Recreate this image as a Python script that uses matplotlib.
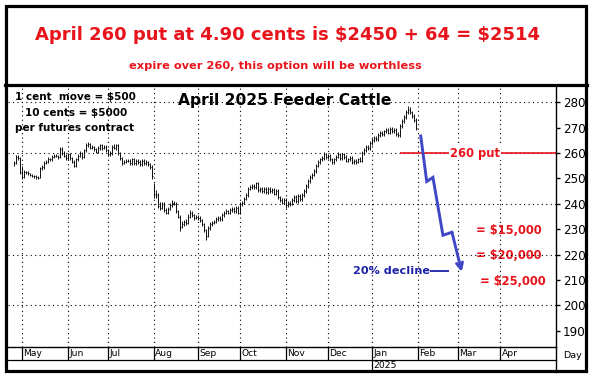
import numpy as np
import pandas as pd
import matplotlib.pyplot as plt
from matplotlib.patches import Rectangle
from matplotlib.lines import Line2D

W, H = 591, 378

# daily bars, Apr 25 2024 .. Jan 31 2025 (business days)
closes = [
    256, 258.5, 258, 252.5,
    250.5, 252.5, 252.5, 252, 251.5, 251, 250.8, 250.5, 250.3, 254, 254.5, 256, 256.5, 257.5, 257.5, 258.5, 259, 259, 258.5, 261.5, 260, 259, 258,
    259.5, 258, 256.5, 255, 257.5, 259, 260, 258.5, 261, 263, 263.5, 262, 262.5, 261.5, 260.5, 262, 263, 262, 262.5, 261,
    259.5, 260, 262.5, 262, 263, 260, 258, 256, 256.5, 257, 257, 256, 257.5, 256, 257, 256.5, 255.5, 257, 256, 256.5, 255.5, 254.5, 251,
    244, 243.5, 239, 238.5, 240, 237.5, 236.5, 238, 239.5, 240.5, 240, 237, 235, 231, 232, 233, 232.5, 235, 236.5, 235.5, 234.5, 235,
    234.5, 233.5, 232, 229.5, 227.5, 230.5, 232, 232.5, 233, 234, 234.5, 234, 235.5, 236.5, 237, 236.5, 237.5, 238, 237, 238.5, 236.5,
    240, 240.5, 242, 243.5, 246, 246.5, 247, 246.5, 248, 245.5, 246, 245, 246, 244.5, 246, 245, 245.5, 244, 245, 242.5, 241.5, 240.5, 241.5,
    239.5, 240.5, 240, 241.5, 242.5, 241, 243, 242, 243.5, 245, 247, 249, 250.5, 251.5, 253, 255, 256.5, 257.5, 258, 259.5, 258.5,
    259, 257.5, 256.5, 257.5, 258.5, 259.5, 258, 259.5, 258.5, 257, 257.5, 258, 256.5, 257, 256.5, 257.5, 257, 260, 261, 262.5, 262, 264,
    265, 266, 265.5, 267, 268, 267.5, 268.5, 269, 268, 269.5, 268.5, 269, 267.5, 267, 270.5, 272.5, 274, 276, 277, 276, 274.5, 273, 270,
]
highs = [
    256.8, 259.2, 259.3, 258.3,
    255.0, 253.2, 253.1, 252.9, 252.3, 251.8, 251.4, 251.2, 250.9, 254.6, 255.3, 256.7, 257.2, 258.3, 258.1, 259.2, 259.8, 259.7, 259.4, 262.3, 262.2, 260.7, 259.6,
    260.2, 260.1, 258.6, 257.1, 258.2, 259.7, 260.8, 260.6, 261.7, 263.8, 264.2, 263.9, 263.1, 262.9, 262.0, 262.6, 263.7, 263.6, 263.2, 263.0,
    261.6, 260.8, 263.3, 263.6, 263.7, 263.6, 260.6, 258.5, 257.2, 257.7, 257.8, 257.6, 258.2, 258.1, 257.8, 257.6, 257.1, 257.7, 257.6, 257.1, 257.0, 255.9, 255.1,
    248.0, 245.6, 244.2, 240.6, 240.8, 240.7, 238.3, 238.8, 240.3, 241.4, 241.2, 240.8, 237.7, 235.6, 233.1, 233.8, 233.9, 235.8, 237.6, 237.2, 236.1, 235.7,
    235.7, 235.1, 234.1, 232.6, 230.2, 231.3, 232.7, 233.2, 233.7, 234.8, 235.3, 235.2, 236.2, 237.3, 237.8, 237.7, 238.2, 238.8, 238.6, 239.3, 239.1,
    240.9, 241.3, 242.8, 244.4, 246.8, 247.3, 247.9, 247.8, 248.6, 248.5, 246.8, 246.7, 246.7, 246.8, 246.7, 246.8, 246.2, 246.3, 245.8, 245.7, 243.2, 242.3, 242.2,
    242.2, 241.3, 241.2, 242.3, 243.4, 243.3, 243.8, 243.8, 244.2, 245.8, 247.8, 249.7, 251.3, 252.3, 253.8, 255.8, 257.3, 258.2, 258.8, 260.3, 260.2,
    259.7, 259.6, 258.2, 258.2, 259.3, 260.3, 260.2, 260.2, 260.1, 259.1, 258.2, 258.8, 258.7, 257.7, 257.8, 258.2, 258.3, 260.8, 261.8, 263.2, 263.3, 264.8,
    265.8, 266.8, 266.7, 267.8, 268.8, 268.7, 269.2, 269.8, 269.7, 270.3, 270.2, 269.8, 269.7, 268.2, 271.3, 273.3, 274.8, 276.8, 278.4, 278.3, 276.7, 275.3, 273.7,
]
lows = [
    255.0, 255.6, 257.4, 251.8,
    249.6, 250.1, 251.8, 251.4, 250.9, 250.4, 250.2, 249.9, 249.7, 250.1, 253.5, 253.9, 255.5, 256.0, 256.8, 257.0, 258.2, 258.3, 257.8, 258.0, 259.2, 258.3, 257.2,
    257.4, 257.4, 255.9, 254.3, 254.5, 256.9, 258.4, 257.8, 257.9, 260.4, 262.3, 261.4, 261.4, 260.9, 259.9, 259.9, 261.3, 261.3, 261.4, 260.4,
    258.9, 258.8, 259.4, 261.4, 261.3, 259.4, 257.3, 255.3, 255.7, 256.1, 256.3, 255.3, 255.4, 255.3, 255.4, 255.8, 254.8, 254.9, 255.3, 255.4, 254.8, 253.8, 249.6,
    242.4, 242.4, 238.2, 237.5, 237.8, 236.9, 235.8, 235.9, 237.4, 238.8, 239.4, 236.3, 234.3, 229.4, 230.3, 231.4, 231.8, 231.9, 234.4, 234.8, 233.8, 233.9,
    233.8, 232.9, 231.3, 228.8, 225.6, 226.9, 229.8, 231.4, 231.9, 232.4, 233.3, 233.4, 233.4, 234.8, 235.9, 235.8, 235.9, 236.9, 236.3, 236.4, 235.8,
    235.9, 239.3, 239.8, 241.4, 242.8, 245.4, 245.8, 245.7, 245.8, 244.8, 244.8, 244.3, 244.4, 243.8, 243.8, 244.3, 244.3, 243.3, 243.4, 241.8, 240.8, 239.8, 239.8,
    238.4, 238.8, 239.3, 239.4, 240.9, 240.3, 240.4, 241.3, 241.3, 242.8, 244.3, 246.3, 248.3, 249.8, 250.8, 252.3, 254.3, 255.8, 256.8, 257.3, 257.8,
    257.8, 256.9, 255.8, 255.8, 256.8, 257.9, 257.3, 257.4, 257.8, 256.3, 256.4, 256.9, 255.8, 255.8, 255.8, 255.9, 256.3, 256.4, 259.3, 260.4, 261.3, 261.3,
    263.3, 264.4, 264.8, 264.9, 266.3, 266.8, 266.9, 267.8, 267.3, 267.4, 267.8, 267.8, 266.8, 266.3, 266.4, 269.8, 271.8, 273.3, 275.3, 275.3, 273.8, 272.3, 269.2,
]

# projected decline (trading days after May 1 2024, price)
proj_day = [199.4, 202.4, 205.5, 210.5, 215.0, 219.9]
proj_val = [266.7, 248.8, 250.4, 227.6, 228.8, 213.2]

month_labels = ['May', 'Jun', 'Jul', 'Aug', 'Sep', 'Oct', 'Nov', 'Dec', 'Jan', 'Feb', 'Mar', 'Apr']
y_ticks = [190, 200, 210, 220, 230, 240, 250, 260, 270, 280]
grid_levels = [200, 220, 240, 260, 280]
put_strike = 260
payouts = ['= \\$15,000', '= \\$20,000', '= \\$25,000']
payout_levels = [229.3, 219.7, 209.5]

RED = '#e8141c'
BLUE = '#4047c6'
NAVY = '#1c22a6'

cal = pd.bdate_range('2024-04-25', '2025-04-30')
x0 = cal.get_loc(pd.Timestamp('2024-05-01'))
bar_x = np.arange(len(closes)) - x0
firsts = cal.to_series().groupby(cal.to_period('M')).first()
month_pos = [cal.get_loc(d) - x0 for d in firsts if d >= pd.Timestamp('2024-05-01')]

fig = plt.figure(figsize=(W / 100, H / 100), dpi=100)

def fx(px):
    return px / W

def fy(py):
    return 1 - py / H

top, bot, left, right = 86, 347, 8, 556
ax = fig.add_axes([fx(left), fy(bot), (right - left) / W, (bot - top) / H])
ax.set_xlim(-6.85, 267.0)
ax.set_ylim(183.6, 286.4)

def ay(py):
    return (bot - py) / (bot - top)

def axx(px):
    return (px - left) / (right - left)

# grid
for g in grid_levels:
    ax.axhline(g, color='black', lw=0.8, ls=(0, (1, 3)), zorder=1)
for m in month_pos:
    ax.axvline(m, color='black', lw=0.8, ls=(0, (1, 3)), zorder=1)

# price bars
ax.vlines(bar_x, lows, highs, color='black', lw=0.65, zorder=3)
ax.hlines(closes, bar_x, bar_x + 0.5, color='black', lw=0.65, zorder=3)

# 260 put line
ax.hlines(put_strike, 189.0, 267.0, color=RED, lw=1.2, zorder=2)
ax.text(226.5, put_strike, '260 put', color=RED, fontsize=8.3, fontweight='bold',
        ha='center', va='center', zorder=4,
        bbox=dict(facecolor='white', edgecolor='none', pad=0.5))

# projection
ax.plot(proj_day[:-1], proj_val[:-1], color=BLUE, lw=2.1, solid_joinstyle='miter', zorder=5)
ax.annotate('', xy=(proj_day[-1], proj_val[-1]), xytext=(proj_day[-2], proj_val[-2]),
            arrowprops=dict(arrowstyle='->', color=BLUE, lw=2.1, mutation_scale=11,
                            shrinkA=0, shrinkB=0), zorder=5)
ax.text(204.0, 213.7, '20% decline', color=NAVY, fontsize=8.1, fontweight='bold',
        ha='right', va='center', zorder=4)
ax.hlines(213.7, 204.0, 213.5, color=NAVY, lw=1.3, zorder=4)

for lab, lev, xs in zip(payouts, payout_levels, [226.9, 226.9, 229.0]):
    ax.text(xs, lev, lab, color=RED, fontsize=8.3, fontweight='bold',
            ha='left', va='center', zorder=0.5 if '20' in lab else 4)

# texts in chart
ax.text(0.505, ay(100), 'April 2025 Feeder Cattle', transform=ax.transAxes,
        fontsize=11.2, fontweight='bold', ha='center', va='center')
ax.text(axx(15), ay(97), '1 cent  move = \\$500',
        transform=ax.transAxes, fontsize=7.5, fontweight='bold', ha='left', va='center')
ax.text(axx(25), ay(113), '10 cents = \\$5000',
        transform=ax.transAxes, fontsize=7.5, fontweight='bold', ha='left', va='center')
ax.text(axx(15), ay(128), 'per futures contract',
        transform=ax.transAxes, fontsize=7.5, fontweight='bold', ha='left', va='center')

# axes styling
for s in ['left', 'top']:
    ax.spines[s].set_visible(False)
ax.spines['right'].set_linewidth(1)
ax.spines['bottom'].set_linewidth(1)
ax.yaxis.tick_right()
ax.set_yticks(y_ticks)
ax.set_yticklabels([str(v) for v in y_ticks])
ax.tick_params(axis='y', length=3, width=1, pad=2, labelsize=8.6)
ax.set_xticks([])

# month / year rows
xa = ax.get_xaxis_transform()
ax.vlines(month_pos, ay(360), 0, transform=xa, color='black', lw=0.9, clip_on=False)
for m, lab in zip(month_pos, month_labels):
    ax.text(m + 0.8, ay(354), lab, transform=xa, fontsize=6.6, ha='left', va='center')
ax.plot([0, 1], [ay(360), ay(360)], transform=ax.transAxes, color='black', lw=0.9, clip_on=False)
ax.plot([1, 1], [0, ay(372)], transform=ax.transAxes, color='black', lw=1, clip_on=False)
ax.vlines(month_pos[8], ay(372), ay(360), transform=xa, color='black', lw=0.9, clip_on=False)
ax.text(month_pos[8] + 0.8, ay(366), '2025', transform=xa, fontsize=6.6, ha='left', va='center')
ax.text(axx(572), ay(355), 'Day', transform=ax.transAxes,
        fontsize=6.8, ha='center', va='center')

# header and frame
fig.text(fx(287.5), fy(35), 'April 260 put at 4.90 cents is \\$2450 + 64 = \\$2514',
         color=RED, fontsize=13.0, fontweight='bold', ha='center', va='center')
fig.text(fx(275), fy(66), 'expire over 260, this option will be worthless',
         color=RED, fontsize=8.2, fontweight='bold', ha='center', va='center')
fig.add_artist(Line2D([fx(5), fx(587)], [fy(84.5), fy(84.5)], color='black', lw=2.3))
fig.add_artist(Rectangle((fx(5.8), fy(370.8)), fx(586.2) - fx(5.8), fy(5.8) - fy(370.8),
                         fill=False, edgecolor='black', lw=2.3, transform=fig.transFigure))

fig.savefig('out.png', dpi=100)
